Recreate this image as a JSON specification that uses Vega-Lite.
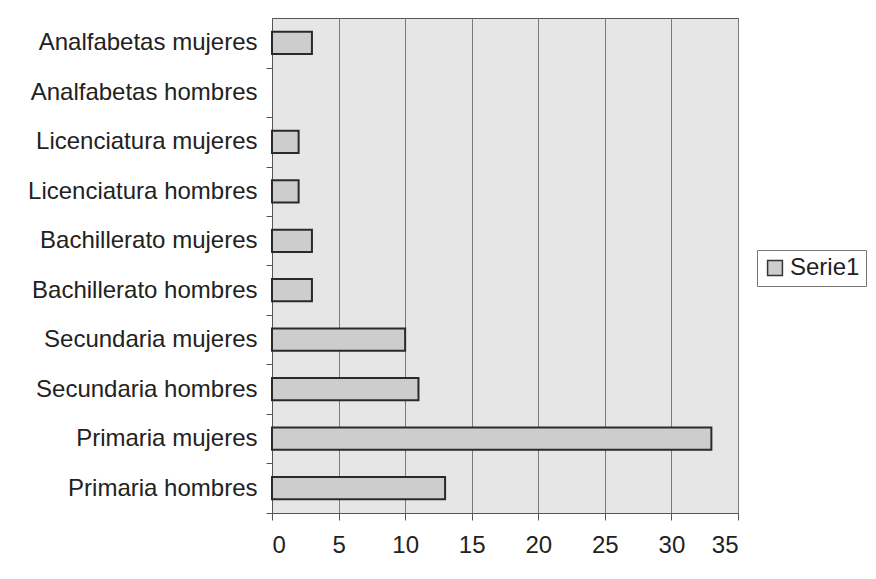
{
  "$schema": "https://vega.github.io/schema/vega-lite/v6.json",
  "width": 466,
  "height": 495,
  "autosize": {"type": "none"},
  "padding": {"left": 272, "top": 18, "right": 138, "bottom": 66},
  "background": "#ffffff",
  "data": {"values": [
    {"categoria": "Analfabetas mujeres", "valor": 3},
    {"categoria": "Analfabetas hombres", "valor": 0},
    {"categoria": "Licenciatura mujeres", "valor": 2},
    {"categoria": "Licenciatura hombres", "valor": 2},
    {"categoria": "Bachillerato mujeres", "valor": 3},
    {"categoria": "Bachillerato hombres", "valor": 3},
    {"categoria": "Secundaria mujeres", "valor": 10},
    {"categoria": "Secundaria hombres", "valor": 11},
    {"categoria": "Primaria mujeres", "valor": 33},
    {"categoria": "Primaria hombres", "valor": 13}
  ]},
  "config": {
    "font": "Liberation Sans",
    "view": {"fill": "#e6e6e6", "stroke": "#555555", "strokeWidth": 1}
  },
  "mark": {"type": "bar", "stroke": "#2a2a2a", "strokeWidth": 2},
  "encoding": {
    "y": {
      "field": "categoria", "type": "nominal", "sort": null,
      "scale": {"paddingInner": 0.55, "paddingOuter": 0.28},
      "axis": {"title": null, "labelFontSize": 24, "labelColor": "#222222", "labelPadding": 9, "ticks": true, "tickOffset": 24.7, "labelOffset": -24.7, "tickSize": 6, "tickColor": "#555555", "domainColor": "#555555", "labelLimit": 300}
    },
    "x": {
      "field": "valor", "type": "quantitative",
      "scale": {"domain": [0, 35], "nice": false},
      "axis": {"title": null, "values": [0, 5, 10, 15, 20, 25, 30, 35], "labelFontSize": 24, "labelColor": "#222222", "labelPadding": 13, "tickSize": 7, "tickColor": "#555555", "domainColor": "#555555", "gridColor": "#7a7a7a", "gridOpacity": 1}
    },
    "strokeOpacity": {"condition": {"test": "datum.valor === 0", "value": 0}, "value": 1},
    "color": {
      "datum": "Serie1",
      "scale": {"range": ["#cdcdcd"]},
      "legend": {"title": null, "orient": "none", "legendX": 485, "legendY": 232, "labelFontSize": 24, "labelColor": "#222222", "symbolType": "square", "symbolSize": 220, "symbolFillColor": "#dddddd", "symbolStrokeColor": "#333333", "symbolStrokeWidth": 1.5, "strokeColor": "#777777", "padding": 6, "labelOffset": 3}
    }
  }
}
